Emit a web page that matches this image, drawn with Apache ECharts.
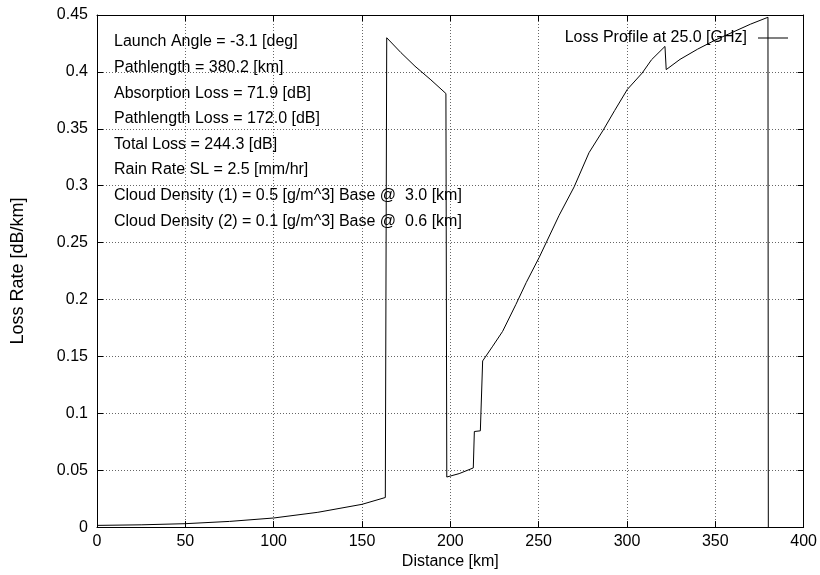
<!DOCTYPE html>
<html>
<head>
<meta charset="utf-8">
<script src="https://cdn.jsdelivr.net/npm/echarts@6/dist/echarts.min.js"></script>
<style>
  html, body { margin: 0; padding: 0; background: #fff; }
  #chart { width: 820px; height: 575px; }
</style>
</head>
<body>
<div id="chart"></div>
<script>
// Loss-rate profile along the propagation path
const distanceKm = [0, 25, 50, 75, 100, 125, 150, 163.2, 164.0, 172, 180, 189, 197.5, 198.0, 205, 213.0, 213.6,
  217.0, 218.3, 224, 229.6, 237.1, 243, 250.3, 261.6, 270.1, 278.5, 286.6, 293, 300.2, 308.6, 313.9, 321.5,
  322.2, 330, 340, 350, 360, 370, 379.8, 380.0];
const lossRate = [0.0015, 0.002, 0.003, 0.005, 0.008, 0.013, 0.020, 0.026, 0.430, 0.417, 0.405, 0.393, 0.381,
  0.044, 0.047, 0.052, 0.084, 0.0846, 0.146, 0.159, 0.172, 0.1956, 0.215, 0.237, 0.274, 0.299, 0.329, 0.349,
  0.366, 0.3846, 0.399, 0.4107, 0.4224, 0.402, 0.411, 0.420, 0.428, 0.435, 0.442, 0.448, 0];

const seriesName = 'Loss Profile at 25.0 [GHz]';
const infoLines = [
  'Launch Angle = -3.1 [deg]',
  'Pathlength = 380.2 [km]',
  'Absorption Loss = 71.9 [dB]',
  'Pathlength Loss = 172.0 [dB]',
  'Total Loss = 244.3 [dB]',
  'Rain Rate SL = 2.5 [mm/hr]',
  'Cloud Density (1) = 0.5 [g/m^3] Base @  3.0 [km]',
  'Cloud Density (2) = 0.1 [g/m^3] Base @  0.6 [km]'
];
const xTicks = { min: 0, max: 400, step: 50 };
const yTicks = { min: 0, max: 0.45, step: 0.05 };

const FONT = '"Liberation Sans", Arial, sans-serif';
const gridLine = { show: true, lineStyle: { color: '#666', type: [1, 2], width: 1 } };
const tickIn = { show: true, inside: true, length: 6, lineStyle: { color: '#000' } };

const chart = echarts.init(document.getElementById('chart'), null, { renderer: 'canvas' });

chart.setOption({
  animation: false,
  backgroundColor: '#fff',
  textStyle: { fontFamily: FONT },
  grid: { left: 97, right: 15, top: 15, bottom: 44, show: false },
  legend: {
    data: [seriesName],
    right: 32, top: 30,
    padding: 0,
    align: 'right',
    icon: 'rect',
    itemWidth: 30, itemHeight: 1,
    itemGap: 0,
    textStyle: { fontFamily: FONT, fontSize: 16, color: '#000', padding: [0, 6, 0, 0] }
  },
  xAxis: [{
    type: 'value',
    min: xTicks.min, max: xTicks.max, interval: xTicks.step,
    name: 'Distance [km]', nameLocation: 'middle', nameGap: 25,
    nameTextStyle: { fontFamily: FONT, fontSize: 16, color: '#000' },
    axisLine: { show: true, onZero: false, lineStyle: { color: '#000', width: 1 } },
    axisTick: tickIn,
    axisLabel: { fontFamily: FONT, fontSize: 16, color: '#000', margin: 6 },
    splitLine: gridLine
  }, {
    type: 'value', position: 'top',
    min: xTicks.min, max: xTicks.max, interval: xTicks.step,
    axisLine: { show: true, onZero: false, lineStyle: { color: '#000', width: 1 } },
    axisTick: tickIn, axisLabel: { show: false }, splitLine: { show: false }
  }],
  yAxis: [{
    type: 'value',
    min: yTicks.min, max: yTicks.max, interval: yTicks.step,
    name: 'Loss Rate [dB/km]', nameLocation: 'middle', nameGap: 70, nameRotate: 90,
    nameTextStyle: { fontFamily: FONT, fontSize: 18, color: '#000' },
    axisLine: { show: true, onZero: false, lineStyle: { color: '#000', width: 1 } },
    axisTick: tickIn,
    axisLabel: { fontFamily: FONT, fontSize: 16, color: '#000', margin: 9 },
    splitLine: gridLine
  }, {
    type: 'value', position: 'right',
    min: yTicks.min, max: yTicks.max, interval: yTicks.step,
    axisLine: { show: true, onZero: false, lineStyle: { color: '#000', width: 1 } },
    axisTick: tickIn, axisLabel: { show: false }, splitLine: { show: false }
  }],
  graphic: infoLines.map((t, i) => ({
    type: 'text',
    left: 114,
    top: 34 + i * 25.6,
    style: { text: t, fontFamily: FONT, fontSize: 16, fill: '#000' },
    z: 10
  })),
  series: [{
    name: seriesName,
    type: 'line',
    xAxisIndex: 0, yAxisIndex: 0,
    data: distanceKm.map((d, i) => [d, lossRate[i]]),
    showSymbol: false,
    symbol: 'none',
    smooth: false,
    lineStyle: { color: '#000', width: 1 },
    itemStyle: { color: '#000' },
    z: 5
  }]
});
</script>
</body>
</html>
